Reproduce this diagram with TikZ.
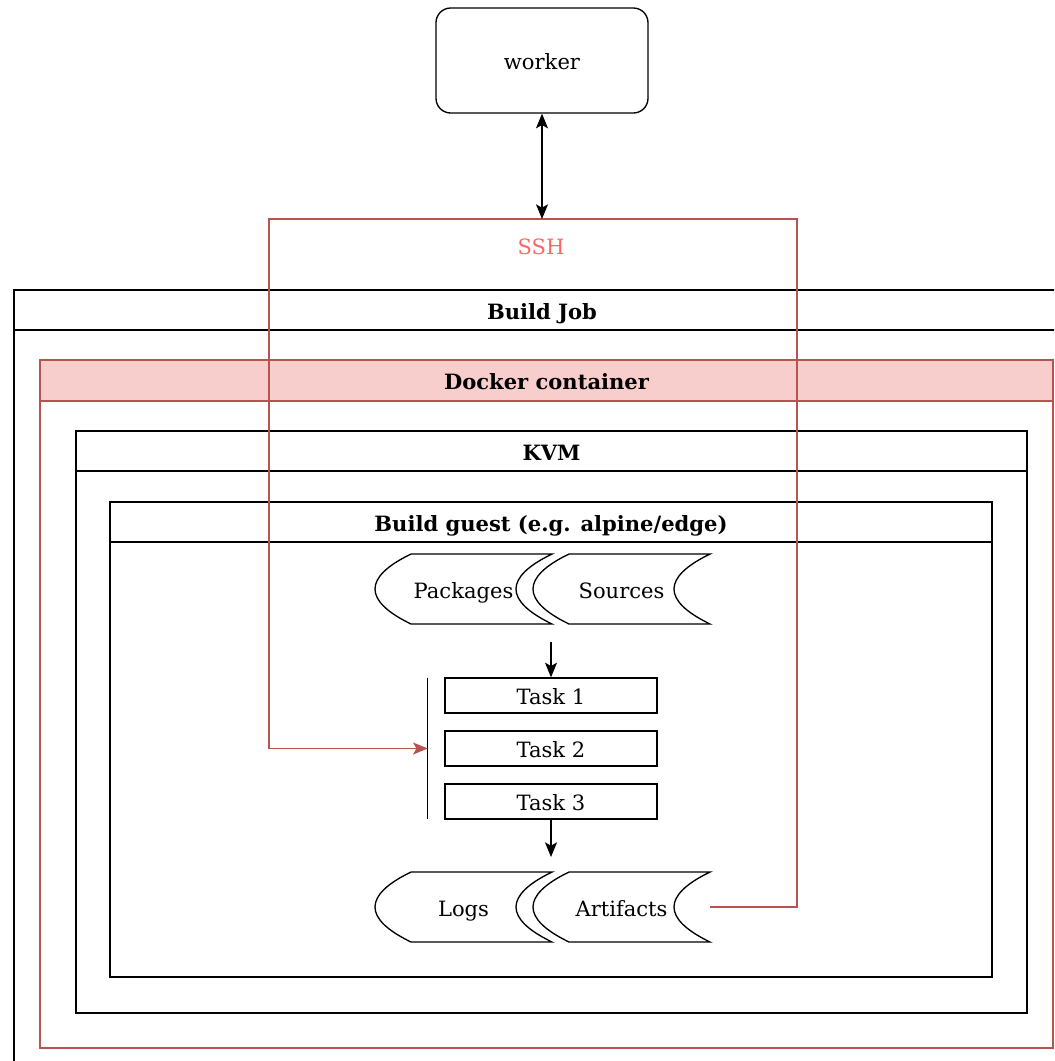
\documentclass[tikz,border=0pt]{standalone}
\usepackage{fontspec}
\setmainfont{DejaVu Serif}
\usetikzlibrary{arrows.meta}
\definecolor{redline}{HTML}{B85450}
\definecolor{redfill}{HTML}{F8CECC}
\definecolor{sshtext}{HTML}{FF6666}
\newcommand\storshape[4]{%
  \node[txt, minimum width=132.75pt, minimum height=52.5pt] (#3) at (#1+88.5,#2+35) {#4};
  \draw[blk] (#1+36,#2) -- (#1+177,#2)
    .. controls (#1+129,#2+23.33) and (#1+129,#2+46.67) .. (#1+177,#2+70)
    -- (#1+36,#2+70)
    .. controls (#1-12,#2+46.67) and (#1-12,#2+23.33) .. cycle;}
\begin{document}
\begin{tikzpicture}[x=0.75pt,y=-0.75pt,
  font=\fontsize{15.8}{19}\selectfont,
  txt/.style={inner sep=0pt, text height=13.75pt, text depth=0pt},
  blk/.style={draw=black, line width=1pt},
  redl/.style={draw=redline, line width=1pt},
  hdr/.style={txt, font=\fontsize{15.8}{19}\selectfont\bfseries},
  taskbox/.style={txt, blk, minimum width=159pt, minimum height=26.25pt},
  tip/.style={-{Stealth[length=11pt,width=9pt,inset=2.5pt]}},
  dtip/.style={{Stealth[length=11pt,width=9pt,inset=2.5pt]}-{Stealth[length=11pt,width=9pt,inset=2.5pt]}}]
\useasboundingbox (0,0) rectangle (1054,1061);
\clip (0,0) rectangle (1054,1061);
\fill[white] (0,0) rectangle (1054,1061);

% worker
\node[txt, blk, rounded corners=11pt, minimum width=159pt, minimum height=78.75pt] (worker) at (542,60.5) {worker};

% Build Job container
\draw[blk] (14,290) rectangle (1070,1090);
\draw[blk] (14,330) -- (1070,330);
\node[hdr] (jobhdr) at (542,310) {Build Job};

% Docker container
\draw[redl, fill=redfill] (40,360) rectangle (1053,401);
\draw[redl] (40,360) rectangle (1053,1048);
\node[hdr] (dockerhdr) at (546.5,380.5) {Docker container};

% KVM
\draw[blk] (76,431) rectangle (1027,1013);
\draw[blk] (76,471) -- (1027,471);
\node[hdr] (kvmhdr) at (551.5,451) {KVM};

% Build guest
\draw[blk] (110,502) rectangle (992,977);
\draw[blk] (110,542) -- (992,542);
\node[hdr] (guesthdr) at (551,522) {Build guest (e.g. alpine/edge)};

% storage shapes
\storshape{375}{554}{packages}{Packages}
\storshape{533}{554}{sources}{Sources}
\storshape{375}{872}{logs}{Logs}
\storshape{533}{872}{artifacts}{Artifacts}

% tasks
\node[inner sep=0pt, minimum width=171.75pt, minimum height=105.75pt] (tasks) at (542.5,748.5) {};
\draw[blk] (tasks.north west) -- (tasks.south west);
\node[taskbox] (t1) at (551,695.5) {Task 1};
\node[taskbox] (t2) at (551,748.5) {Task 2};
\node[taskbox] (t3) at (551,801.5) {Task 3};

\coordinate (inputs) at (551,642);
\coordinate (outputs) at (551,857);
\draw[blk, tip] (inputs) -- (t1.north);
\draw[blk, tip] (t3.south) -- (outputs);

% SSH
\coordinate (sshNE) at (797,219);
\coordinate (sshNW) at (269,219);
\node[txt, text=sshtext] (ssh) at (541,245) {SSH};
\draw[redl, line join=miter, -{Stealth[length=11pt,width=9pt,inset=2.5pt,fill=redline]}] (artifacts.east) -| (sshNE) -- (sshNW) |- (tasks.west);
\draw[blk, dtip] (worker.south) -- (worker.south |- sshNW);
\end{tikzpicture}
\end{document}
